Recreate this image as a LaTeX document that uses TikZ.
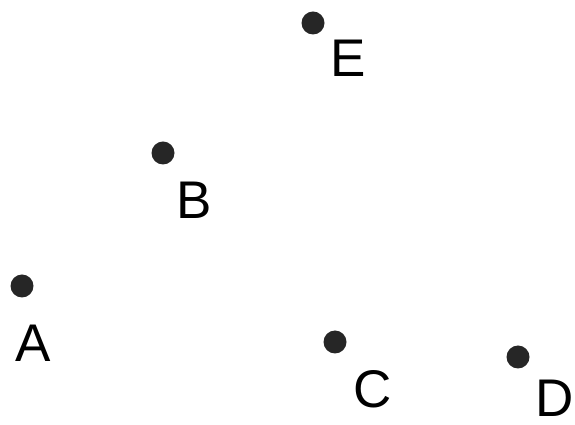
\documentclass[tikz,border=0pt]{standalone}
\usepackage{fontspec}
\setmainfont{Liberation Sans}
\begin{document}
\begin{tikzpicture}[x=1pt,y=1pt,
  pt/.style={circle,fill=black!85,inner sep=0pt,minimum size=23pt},
  lbl/.style={anchor=base,inner sep=0pt,font=\fontsize{53}{60}\selectfont}]
\useasboundingbox (0,0) rectangle (575,425);
\node[pt] (E) at (313,402) {};
\node[pt] (B) at (163,272) {};
\node[pt] (A) at (22,139) {};
\node[pt] (C) at (335,83) {};
\node[pt] (D) at (518,68) {};
\node[lbl] (lE) at (348,348) {E};
\node[lbl] (lB) at (194,206) {B};
\node[lbl] (lA) at (33,63) {A};
\node[lbl] (lC) at (373,17) {C};
\node[lbl] (lD) at (555,8) {D};
\end{tikzpicture}
\end{document}
